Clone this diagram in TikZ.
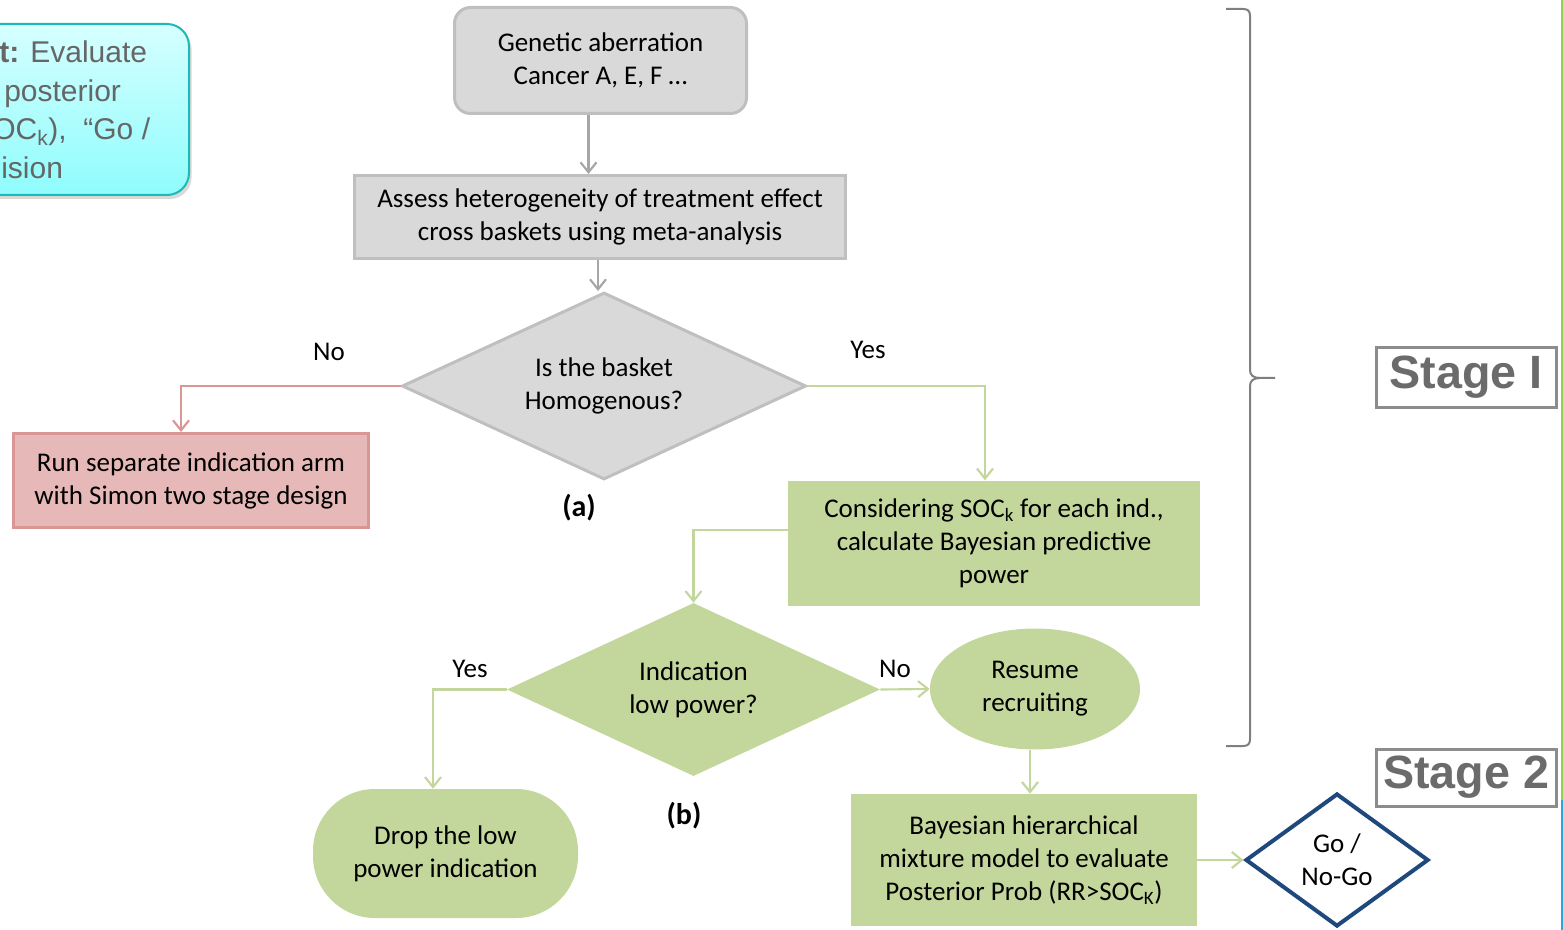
\documentclass[tikz,border=0pt]{standalone}
\usepackage{fontspec}
\setmainfont{Carlito}
\newfontfamily\arialfont{Liberation Sans}
\usetikzlibrary{shapes.geometric,arrows.meta,shadows}

\definecolor{boxgray}{HTML}{D9D9D9}
\definecolor{boxgrayline}{HTML}{BFBFBF}
\definecolor{arrowgray}{HTML}{A6A6A6}
\definecolor{leaf}{HTML}{C3D69B}
\definecolor{rosefill}{HTML}{E6B9B8}
\definecolor{roseline}{HTML}{D99694}
\definecolor{navy}{HTML}{1F497D}
\definecolor{bracegray}{HTML}{7F7F7F}
\definecolor{stagegray}{HTML}{6B6B6B}
\definecolor{stageline}{HTML}{8C8C8C}
\definecolor{cyanlight}{HTML}{D6FFFF}
\definecolor{cyandark}{HTML}{8FFCFC}
\definecolor{cyanline}{HTML}{1FB8B8}
\definecolor{notegray}{HTML}{666666}
\definecolor{edgegreen}{HTML}{92D050}
\definecolor{edgeblue}{HTML}{2EA6DD}

\def\px{0.75pt}

\begin{document}
\begin{tikzpicture}[x=0.75pt,y=-0.75pt,
  txt/.style={font=\fontsize{20.25}{24.75}\selectfont, align=center, text=black},
  graybox/.style={txt, draw=boxgrayline, fill=boxgray, line width=2.25pt, inner sep=0pt},
  greenbox/.style={txt, fill=leaf, inner sep=0pt},
  redbox/.style={txt, draw=roseline, fill=rosefill, line width=2.25pt, inner sep=0pt},
  lbl/.style={txt},
  caplbl/.style={txt, font=\bfseries\fontsize{22.5}{27}\selectfont},
  stagebox/.style={draw=stageline, line width=2.25pt, text=stagegray, inner sep=0pt,
    font=\arialfont\bfseries\fontsize{35}{40}\selectfont},
  notetext/.style={anchor=base west, inner sep=0pt, text=notegray,
    font=\arialfont\fontsize{22.5}{27}\selectfont},
  arr/.style={line width=1.6pt, -{Straight Barb[length=7.5pt,width=12pt]}},
  grayline/.style={draw=arrowgray},
  greenline/.style={draw=leaf},
  redline/.style={draw=roseline}
]
\useasboundingbox (0,0) rectangle (1563,930);
\clip (0,0) rectangle (1563,930);

% side note box, running off the left edge
\draw[draw=cyanline, line width=1.5pt, top color=cyanlight, bottom color=cyandark,
  rounded corners=22*\px,
  drop shadow={opacity=0.3, shadow xshift=2pt, shadow yshift=-3pt}]
  (-40,24) rectangle (189,195);
\node[notetext] (n1) at (-1,63) {\textbf{t:} Evaluate};
\node[notetext] (n2) at (4,101.5) {posterior};
\node[notetext] (n3) at (-8,140) {OC\textsubscript{k}),\ \ “Go /};
\node[notetext] (n4) at (1,178.5) {ision};

% flow chart
\node[graybox, rounded corners=16*\px, minimum width=292*\px, minimum height=106*\px]
  (gen) at (600.5,60.5) {Genetic aberration\\Cancer A, E, F …};
\node[graybox, minimum width=491*\px, minimum height=83*\px]
  (ass) at (600,217) {Assess heterogeneity of treatment effect\\cross baskets using meta-analysis};
\node[graybox, diamond, aspect=2.16, minimum width=404*\px, minimum height=187*\px]
  (homo) at (604,386) {Is the basket\\Homogenous?};
\node[redbox, minimum width=355*\px, minimum height=94*\px]
  (sep) at (191,480.5) {Run separate indication arm\\with Simon two stage design};
\node[greenbox, minimum width=412*\px, minimum height=125*\px]
  (soc) at (994,543) {Considering SOC\textsubscript{k} for each ind.,\\calculate Bayesian predictive\\power};
\node[greenbox, diamond, aspect=2.16, minimum width=373*\px, minimum height=173*\px]
  (low) at (693.5,689.5) {Indication\\low power?};
\node[greenbox, rounded corners=62*\px, minimum width=265*\px, minimum height=129*\px]
  (drop) at (445.5,853.5) {Drop the low\\power indication};
\node[greenbox, ellipse, minimum width=210*\px, minimum height=121*\px]
  (res) at (1035,689) {Resume\\recruiting};
\node[greenbox, minimum width=346*\px, minimum height=132*\px]
  (bay) at (1024,860) {Bayesian hierarchical\\mixture model to evaluate\\Posterior Prob (RR>SOC\textsubscript{K})};
\node[txt, diamond, aspect=1.37, draw=navy, line width=3pt, fill=white, inner sep=0pt,
  minimum width=183*\px, minimum height=133*\px]
  (go) at (1337,860) {Go /\\No-Go};

% branch labels
\node[lbl] (noA) at (329,352) {No};
\node[lbl] (yesA) at (868,350) {Yes};
\node[lbl] (yesB) at (470,669) {Yes};
\node[lbl] (noB) at (895,669) {No};
\node[caplbl] (capA) at (579,508) {(a)};
\node[caplbl] (capB) at (684,816) {(b)};

% connectors
\draw[arr, grayline] ([xshift=-12*\px]gen.south) -- ([xshift=-12*\px]gen.south |- ass.north);
\draw[arr, grayline] ([xshift=-2*\px]ass.south) -- ([xshift=-2*\px]ass.south |- homo.north);
\draw[arr, redline] (homo.west) -| ([xshift=-10*\px]sep.north);
\draw[arr, greenline] (homo.east) -| ([xshift=-9*\px]soc.north);
\draw[arr, greenline] ([yshift=13*\px]soc.west) -| (low.north);
\draw[arr, greenline] (low.west) -| ([xshift=-12.5*\px]drop.north);
\draw[arr, greenline] (low.east) -- (res.west);
\draw[arr, greenline] ([xshift=-5*\px]res.south) -- ([xshift=-5*\px]res.south |- bay.north);
\draw[arr, greenline] (bay.east) -- (go.west);

% brace grouping the first stage
\draw[bracegray, line width=1.5pt]
  (1226,9) -- (1243,9) .. controls (1248,9) and (1250,11) .. (1250,16)
  -- (1250,370) .. controls (1250,375) and (1253,378) .. (1260,378) -- (1275,378)
  (1260,378) .. controls (1253,378) and (1250,381) .. (1250,386)
  -- (1250,739) .. controls (1250,744) and (1248,746) .. (1243,746) -- (1226,746);

% stage tags
\node[stagebox, minimum width=180*\px, minimum height=59*\px] (st1) at (1466,377.5) {Stage I};
\node[stagebox, minimum width=180*\px, minimum height=57*\px] (st2) at (1466,777.5) {Stage 2};

% coloured rule on the right edge
\draw[edgegreen, line width=1.5pt] (1561.5,0) -- (1561.5,800);
\draw[edgeblue, line width=1.5pt] (1561.5,800) -- (1561.5,930);
\end{tikzpicture}
\end{document}
